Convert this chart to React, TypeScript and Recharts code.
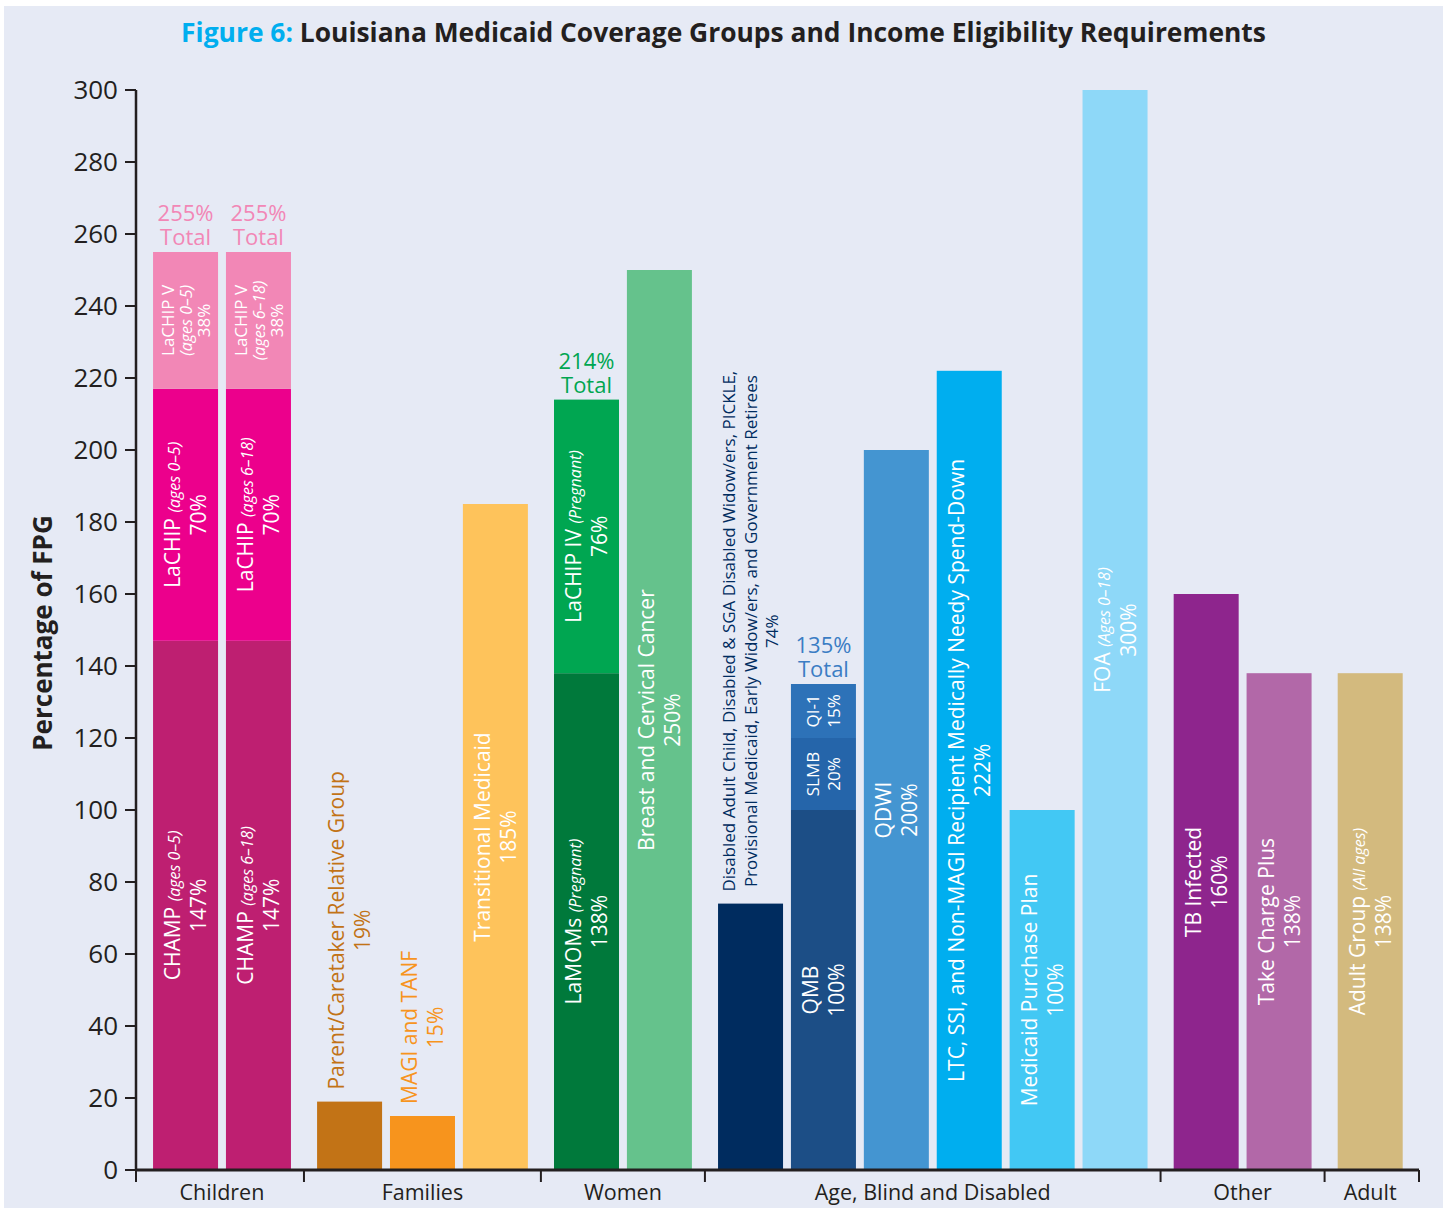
import React from 'react';
import { BarChart, Bar, XAxis, YAxis, Cell } from 'recharts';

// ---------- data ----------
const categories = [
  'CHAMP (ages 0–5)', 'CHAMP (ages 6–18)', 'Parent/Caretaker Relative Group', 'MAGI and TANF',
  'Transitional Medicaid', 'LaMOMs', 'Breast and Cervical Cancer', 'Disabled Adult Child etc.',
  'QMB', 'QDWI', 'LTC, SSI, and Non-MAGI', 'Medicaid Purchase Plan', 'FOA', 'TB Infected',
  'Take Charge Plus', 'Adult Group',
];
const xPositions = [0, 1, 2.25, 3.25, 4.25, 5.5, 6.5, 7.75, 8.75, 9.75, 10.75, 11.75, 12.75, 14, 15, 16.25];
const groupNames = ['Children', 'Families', 'Women', 'Age, Blind and Disabled', 'Other', 'Adult'];
const groupOf = [0, 0, 1, 1, 1, 2, 2, 3, 3, 3, 3, 3, 3, 4, 4, 5];

const baseValues = [147, 147, 19, 15, 185, 138, 250, 74, 100, 200, 222, 100, 300, 160, 138, 138];
const middleValues = [70, 70, null, null, null, 76, null, null, 20, null, null, null, null, null, null, null];
const topValues = [38, 38, null, null, null, null, null, null, 15, null, null, null, null, null, null, null];
const totalValues = [255, 255, null, null, null, 214, null, null, 135, null, null, null, null, null, null, null];

const yTicks = [0, 20, 40, 60, 80, 100, 120, 140, 160, 180, 200, 220, 240, 260, 280, 300];

type Seg = [string, boolean?];
type Lines = Seg[][];

const baseLabels: Lines[] = [
  [[['CHAMP '], ['(ages 0–5)', true]], [['147%']]],
  [[['CHAMP '], ['(ages 6–18)', true]], [['147%']]],
  [[['Parent/Caretaker Relative Group']], [['19%']]],
  [[['MAGI and TANF']], [['15%']]],
  [[['Transitional Medicaid']], [['185%']]],
  [[['LaMOMs '], ['(Pregnant)', true]], [['138%']]],
  [[['Breast and Cervical Cancer']], [['250%']]],
  [[['Disabled Adult Child, Disabled & SGA Disabled Widow/ers, PICKLE,']],
   [['Provisional Medicaid, Early Widow/ers, and Government Retirees']], [['74%']]],
  [[['QMB']], [['100%']]],
  [[['QDWI']], [['200%']]],
  [[['LTC, SSI, and Non-MAGI Recipient Medically Needy Spend-Down']], [['222%']]],
  [[['Medicaid Purchase Plan']], [['100%']]],
  [[['FOA '], ['(Ages 0–18)', true]], [['300%']]],
  [[['TB Infected']], [['160%']]],
  [[['Take Charge Plus']], [['138%']]],
  [[['Adult Group '], ['(All ages)', true]], [['138%']]],
];
const middleLabels: (Lines | null)[] = [
  [[['LaCHIP '], ['(ages 0–5)', true]], [['70%']]],
  [[['LaCHIP '], ['(ages 6–18)', true]], [['70%']]],
  null, null, null,
  [[['LaCHIP IV '], ['(Pregnant)', true]], [['76%']]],
  null, null,
  [[['SLMB']], [['20%']]],
  null, null, null, null, null, null, null,
];
const topLabels: (Lines | null)[] = [
  [[['LaCHIP V']], [['(ages 0–5)', true]], [['38%']]],
  [[['LaCHIP V']], [['(ages 6–18)', true]], [['38%']]],
  null, null, null, null, null, null,
  [[['QI-1']], [['15%']]],
  null, null, null, null, null, null, null,
];

// ---------- styles ----------
const baseColors = ['#BE1F71', '#BE1F71', '#C27316', '#F7941D', '#FEC35B', '#00793B', '#65C28C', '#002C5F',
  '#1C4E86', '#4495D1', '#00AEEF', '#42C8F4', '#8ED8F8', '#8E258D', '#B268A8', '#D3BA7E'];
const middleColors = ['#EC008C', '#EC008C', '', '', '', '#00A651', '', '', '#2565AA', '', '', '', '', '', '', ''];
const topColors = ['#F287B6', '#F287B6', '', '', '', '', '', '', '#2D72B8', '', '', '', '', '', '', ''];
const totalColors = ['#F287B6', '#F287B6', '', '', '', '#00A651', '', '', '#3B7DC4', '', '', '', '', '', '', ''];
const outsideColors = ['', '', '#C27316', '#F7941D', '', '', '', '#002C5F', '', '', '', '', '', '', '', ''];

const FONT = '"Open Sans", sans-serif';
const INK = '#231F20';
const BIG = { fs: 21, ifs: 16, lh: 26 };
const SMALL = { fs: 17, ifs: 16, lh: 18 };
const TINY = { fs: 17, ifs: 15, lh: 21.5 };

const rows = categories.map((name, i) => ({
  name,
  idx: i,
  pos: xPositions[i],
  base: baseValues[i],
  middle: middleValues[i],
  top: topValues[i],
}));

const groupCenters = groupNames.map((_, g) => {
  const ps = xPositions.filter((_, i) => groupOf[i] === g);
  return (ps[0] + ps[ps.length - 1]) / 2;
});
const separators: number[] = [];
for (let i = 1; i < xPositions.length; i++) {
  if (groupOf[i] !== groupOf[i - 1]) separators.push((xPositions[i] + xPositions[i - 1]) / 2);
}
const X_MIN = xPositions[0] - 0.679;
const X_MAX = xPositions[xPositions.length - 1] + 0.67;

let ctx: CanvasRenderingContext2D | null = null;
function measure(text: string, fs: number, italic?: boolean) {
  if (!ctx) ctx = document.createElement('canvas').getContext('2d');
  if (!ctx) return text.length * fs * 0.5;
  ctx.font = `${italic ? 'italic ' : ''}${fs}px "Open Sans"`;
  return ctx.measureText(text).width;
}

function RotatedLabel({ cx, cy, lines, st, color, outsideBottom }: any) {
  const n = lines.length;
  let centerY = cy;
  if (outsideBottom != null) {
    const widths = lines.map((l: Seg[]) => l.reduce((s, seg) => s + measure(seg[0], seg[1] ? st.ifs : st.fs, seg[1]), 0));
    centerY = outsideBottom - Math.max(...widths) / 2;
  }
  return (
    <g transform={`translate(${cx},${centerY}) rotate(-90)`}>
      {lines.map((l: Seg[], i: number) => (
        <text key={i} x={0} y={(i - (n - 1) / 2) * st.lh + 0.36 * st.fs} textAnchor="middle" fill={color}
          fontSize={st.fs} fontFamily={FONT}>
          {l.map((seg, j) => (
            <tspan key={j} fontStyle={seg[1] ? 'italic' : 'normal'} fontSize={seg[1] ? st.ifs : st.fs}>{seg[0]}</tspan>
          ))}
        </text>
      ))}
    </g>
  );
}

const makeShape = (level: 'base' | 'middle' | 'top') => (props: any) => {
  const { x, y, width, height, fill } = props;
  const i = props.payload?.idx ?? props.index;
  if (i == null || height == null || !(height > 0)) return <g />;
  const cx = x + width / 2;
  let label: React.ReactNode = null;
  if (level === 'base') {
    const lines = baseLabels[i];
    if (outsideColors[i]) {
      label = <RotatedLabel cx={cx} lines={lines} st={i === 7 ? TINY : BIG} color={outsideColors[i]} outsideBottom={y - 12} />;
    } else {
      label = <RotatedLabel cx={cx} cy={y + height / 2} lines={lines} st={BIG} color="#FFFFFF" />;
    }
  } else if (level === 'middle') {
    const lines = middleLabels[i];
    if (lines) label = <RotatedLabel cx={cx} cy={y + height / 2} lines={lines} st={i === 8 ? TINY : BIG} color="#FFFFFF" />;
  } else {
    const lines = topLabels[i];
    if (lines) label = <RotatedLabel cx={cx} cy={y + height / 2} lines={lines} st={i === 8 ? TINY : SMALL} color="#FFFFFF" />;
  }
  const isTopmost = level === 'top' ? true : level === 'middle' ? topValues[i] == null : middleValues[i] == null && topValues[i] == null;
  let total: React.ReactNode = null;
  if (isTopmost && totalValues[i] != null) {
    total = (
      <g fill={totalColors[i]} fontSize={22} fontFamily={FONT} textAnchor="middle">
        <text x={cx} y={y - 31}>{`${totalValues[i]}%`}</text>
        <text x={cx} y={y - 7}>Total</text>
      </g>
    );
  }
  return (
    <g>
      <rect x={x} y={y} width={width} height={height} fill={fill} />
      {label}
      {total}
    </g>
  );
};

export default function App() {
  return (
    <div style={{ position: 'absolute', left: 0, top: 0, width: 1447, height: 1211, background: '#FFFFFF', fontFamily: FONT }}>
      <div style={{ position: 'absolute', left: 4, top: 6, width: 1439, height: 1202, background: '#E6EAF5' }} />
      <div style={{ position: 'absolute', left: 0, top: 14, width: 1447, textAlign: 'center', fontSize: 26.4, fontWeight: 700, color: INK, whiteSpace: 'nowrap' }}>
        <span style={{ color: '#00AEEF' }}>Figure 6:</span> Louisiana Medicaid Coverage Groups and Income Eligibility Requirements
      </div>
      <div style={{ position: 'absolute', left: 42, top: 633, transform: 'translate(-50%,-50%) rotate(-90deg)', fontSize: 26, fontWeight: 700, color: INK, whiteSpace: 'nowrap' }}>
        Percentage of FPG
      </div>
      <div style={{ position: 'absolute', left: 0, top: 0 }}>
        <BarChart width={1447} height={1211} data={rows} margin={{ top: 90, right: 28, bottom: 0, left: 76 }}>
          <XAxis xAxisId="bars" type="number" dataKey="pos" domain={[X_MIN, X_MAX]} allowDataOverflow
            ticks={[X_MIN, ...separators, X_MAX]} tickFormatter={() => ''} tickSize={12} height={12}
            axisLine={{ stroke: INK, strokeWidth: 3 }} tickLine={{ stroke: INK, strokeWidth: 2 }} interval={0} />
          <XAxis xAxisId="groups" type="number" dataKey="pos" domain={[X_MIN, X_MAX]} allowDataOverflow
            ticks={groupCenters} tickFormatter={(v: number) => groupNames[groupCenters.indexOf(v)] ?? ''}
            tickSize={0} tickMargin={3} height={29} axisLine={false} tickLine={false} interval={0}
            tick={{ fill: INK, fontSize: 21.5, fontFamily: FONT }} />
          <YAxis type="number" domain={[0, 300]} ticks={yTicks} interval={0} width={60} tickSize={11} tickMargin={7}
            axisLine={{ stroke: INK, strokeWidth: 2.5 }} tickLine={{ stroke: INK, strokeWidth: 2 }}
            tick={{ fill: INK, fontSize: 26, fontFamily: FONT }} />
          <Bar xAxisId="bars" dataKey="base" stackId="s" barSize={65} isAnimationActive={false} shape={makeShape('base')}>
            {rows.map((r, i) => <Cell key={i} fill={baseColors[i]} />)}
          </Bar>
          <Bar xAxisId="bars" dataKey="middle" stackId="s" barSize={65} isAnimationActive={false} shape={makeShape('middle')}>
            {rows.map((r, i) => <Cell key={i} fill={middleColors[i] || '#000'} />)}
          </Bar>
          <Bar xAxisId="bars" dataKey="top" stackId="s" barSize={65} isAnimationActive={false} shape={makeShape('top')}>
            {rows.map((r, i) => <Cell key={i} fill={topColors[i] || '#000'} />)}
          </Bar>
        </BarChart>
      </div>
    </div>
  );
}
